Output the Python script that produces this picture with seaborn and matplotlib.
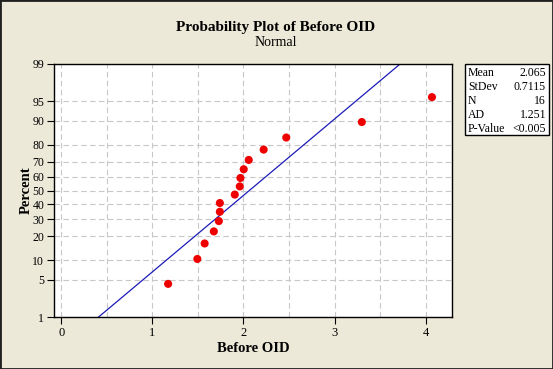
import numpy as np
import pandas as pd
import matplotlib
matplotlib.use("Agg")
import matplotlib.pyplot as plt
import seaborn as sns
from statistics import NormalDist
from matplotlib.patches import Rectangle

# ---- data ----
before_oid = [1.173, 1.494, 1.574, 1.675, 1.730, 1.741, 1.741, 1.905,
              1.960, 1.967, 2.003, 2.058, 2.222, 2.470, 3.300, 4.070]
percent = [4.3, 10.4, 16.5, 22.6, 28.7, 34.8, 40.9, 47.0,
           53.0, 59.1, 65.2, 71.3, 77.4, 83.5, 89.6, 95.7]
fit_mean = 2.065
fit_sd = 0.7115
y_ticks = [1, 5, 10, 20, 30, 40, 50, 60, 70, 80, 90, 95, 99]
x_ticks = [0, 1, 2, 3, 4]
stat_labels = ["Mean", "StDev", "N", "AD", "P-Value"]
stat_values = ["2.065", "0.7115", "16", "1.251", "<0.005"]

nd = NormalDist()

def _fwd(p):
    p = np.asarray(p, dtype=float)
    q = np.clip(p / 100.0, 1e-9, 1 - 1e-9)
    return np.vectorize(nd.inv_cdf, otypes=[float])(q)

def _inv(z):
    z = np.asarray(z, dtype=float)
    return np.vectorize(nd.cdf, otypes=[float])(z) * 100.0

sns.set_style("white")
plt.rcParams['font.family'] = ['Liberation Serif', 'DejaVu Serif']
plt.rcParams['text.color'] = 'black'
plt.rcParams['axes.labelcolor'] = 'black'
plt.rcParams['xtick.color'] = 'black'
plt.rcParams['ytick.color'] = 'black'

W, H = 553, 369
fig = plt.figure(figsize=(W / 100, H / 100), dpi=100)
fig.patch.set_facecolor('#ece9d8')
fig.patches.append(Rectangle((0, 0), 1, 1, transform=fig.transFigure,
                             fill=False, edgecolor='#202020', linewidth=2))

ax = fig.add_axes([54 / W, 1 - 317 / H, (452 - 54) / W, (317 - 64) / H])
ax.set_facecolor('white')
ax.set_yscale('function', functions=(_fwd, _inv))

df = pd.DataFrame({"Before OID": before_oid, "Percent": percent})

# fitted line
line_p = np.array([0.5, 99.5])
line_x = fit_mean + fit_sd * _fwd(line_p)
ax.plot(line_x, line_p, color='#1c1cb8', linewidth=0.9, zorder=2)

sns.scatterplot(data=df, x="Before OID", y="Percent", ax=ax, color='#ee0000',
                s=34, edgecolor='none', zorder=3)

ax.set_xlim(-0.08, 4.29)
ax.set_ylim(1, 99)
ax.set_yticks(y_ticks)
ax.set_yticklabels([str(v) for v in y_ticks])
ax.set_xticks(x_ticks)
ax.set_xticklabels([str(v) for v in x_ticks])
ax.set_xticks(np.arange(0, 4.01, 0.5), minor=True)
ax.yaxis.set_minor_locator(matplotlib.ticker.NullLocator())

ax.grid(True, which='both', axis='x', color='#c8c8c8', linestyle=(0, (5, 3)), linewidth=0.8)
ax.grid(True, which='major', axis='y', color='#c8c8c8', linestyle=(0, (5, 3)), linewidth=0.8)
ax.set_axisbelow(True)

ax.tick_params(axis='both', which='major', direction='out', length=5, width=0.8,
               colors='black', labelsize=9, pad=2, left=True, bottom=True)
ax.tick_params(axis='x', which='minor', length=0)
for lbl in ax.get_yticklabels():
    lbl.set_fontsize(8.5)
for s in ax.spines.values():
    s.set_color('black')
    s.set_linewidth(1.0)

ax.set_xlabel("Before OID", fontsize=10.5, fontweight='bold', labelpad=2, color='black')
ax.set_ylabel("Percent", fontsize=10.5, fontweight='bold', labelpad=0, color='black')

fig.text(276 / W, 1 - 27 / H, "Probability Plot of Before OID", ha='center', va='center',
         fontsize=11, fontweight='bold', color='black')
fig.text(276 / W, 1 - 42 / H, "Normal", ha='center', va='center', fontsize=10, color='black')

# stats box
bx0, bx1, by0, by1 = 465, 549, 64, 135
fig.patches.append(Rectangle((bx0 / W, 1 - by1 / H), (bx1 - bx0) / W, (by1 - by0) / H,
                             transform=fig.transFigure, facecolor='white',
                             edgecolor='black', linewidth=1.0))
for i, (lab, val) in enumerate(zip(stat_labels, stat_values)):
    yy = 1 - (73 + 14 * i) / H
    fig.text(468 / W, yy, lab, ha='left', va='center', fontsize=8.5, color='black')
    fig.text(546 / W, yy, val, ha='right', va='center', fontsize=8.5, color='black')

fig.savefig("out.png", dpi=100, facecolor=fig.get_facecolor())
